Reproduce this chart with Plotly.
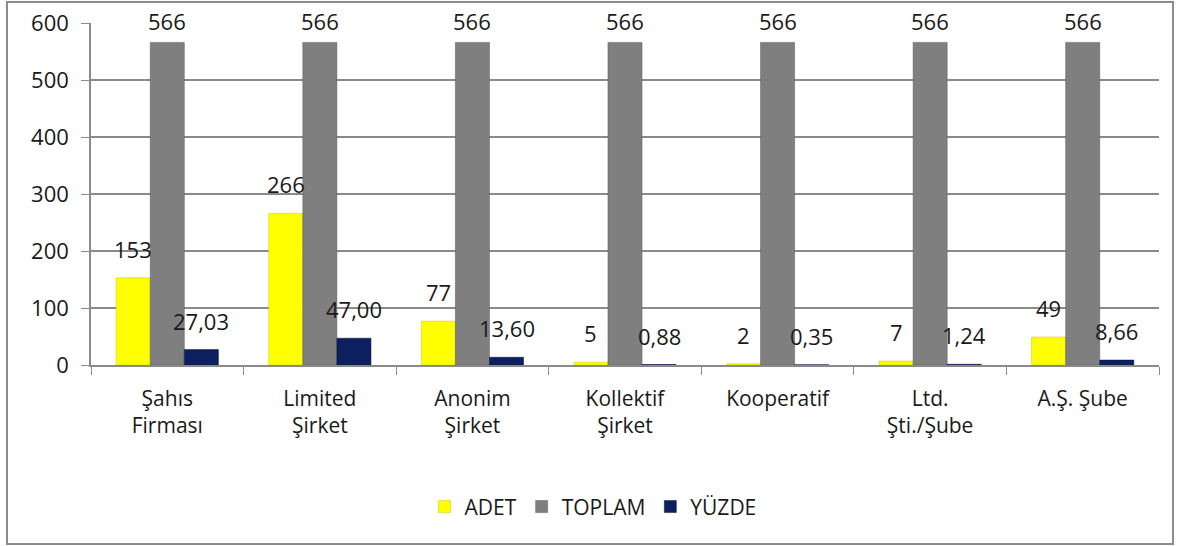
import plotly.graph_objects as go

categories = ["Şahıs<br>Firması", "Limited<br>Şirket", "Anonim<br>Şirket", "Kollektif<br>Şirket",
              "Kooperatif", "Ltd.<br>Şti./Şube", "A.Ş. Şube"]
adet = [153, 266, 77, 5, 2, 7, 49]
toplam = [566, 566, 566, 566, 566, 566, 566]
yuzde = [27.03, 47.00, 13.60, 0.88, 0.35, 1.24, 8.66]
y_ticks = [0, 100, 200, 300, 400, 500, 600]

FONT = "Open Sans"
TXT = "#1a1a1a"
W, H = 1181, 546
ML, MR, MT, MB = 91, 22, 23, 181
BARGAP = 0.33

def fmt_int(v):
    return f"{v:d}"

def fmt_pct(v):
    return f"{v:.2f}".replace(".", ",")

series = [
    ("ADET", adet, "#FFFF00", "#C8C800", [fmt_int(v) for v in adet], 12),
    ("TOPLAM", toplam, "#7f7f7f", "#5a5a5a", [fmt_int(v) for v in toplam], 4),
    ("YÜZDE", yuzde, "#0C1F5E", "#081540", [fmt_pct(v) for v in yuzde], 12),
]

plot_w = W - ML - MR
bar_px = plot_w / len(categories) * (1 - BARGAP) / len(series)

fig = go.Figure()
annotations = []
for i, (name, vals, col, line_col, txt, lift) in enumerate(series):
    fig.add_trace(go.Bar(
        x=categories, y=vals, name=name,
        marker=dict(color=col, line=dict(color=line_col, width=0.5)),
    ))
    for c, v, t in zip(categories, vals, txt):
        annotations.append(dict(
            x=c, y=v, xref="x", yref="y", text=t, showarrow=False,
            xanchor="center", yanchor="bottom",
            xshift=(i - 1) * bar_px, yshift=lift,
            font=dict(family=FONT, size=22, color=TXT),
        ))

fig.update_layout(
    width=W, height=H,
    paper_bgcolor="white", plot_bgcolor="white",
    margin=dict(l=ML, r=MR, t=MT, b=MB, autoexpand=False),
    barmode="group", bargap=BARGAP, bargroupgap=0,
    font=dict(family=FONT, size=21, color=TXT),
    showlegend=True,
    legend=dict(orientation="h", x=0.47, xanchor="center", y=-0.415, yanchor="middle",
                font=dict(family=FONT, size=21, color=TXT), itemwidth=30,
                traceorder="normal"),
    annotations=annotations,
    shapes=[dict(type="rect", xref="paper", yref="paper",
                 x0=-84 / plot_w, x1=1 + 14 / plot_w, y0=-179 / 342, y1=1 + 21 / 342,
                 line=dict(color="#8c8c8c", width=2), fillcolor="rgba(0,0,0,0)", layer="below")],
)
fig.update_yaxes(range=[0, 600], tickvals=y_ticks, showgrid=True, gridcolor="#8a8a8a", gridwidth=1.5,
                 showline=True, linecolor="#8a8a8a", linewidth=1.5, ticks="outside", ticklen=8,
                 tickcolor="#8a8a8a", tickfont=dict(family=FONT, size=22, color=TXT), zeroline=False,
                 ticklabelstandoff=8, automargin=False)
fig.update_xaxes(showline=True, linecolor="#8a8a8a", linewidth=1.5, ticks="outside", ticklen=8,
                 tickcolor="#8a8a8a", tickson="boundaries", tickfont=dict(family=FONT, size=21, color=TXT),
                 ticklabelstandoff=14, automargin=False)

fig.write_html("out.html", config={"displayModeBar": False},
               post_script="document.body.style.margin='0';document.body.style.overflow='hidden';")
